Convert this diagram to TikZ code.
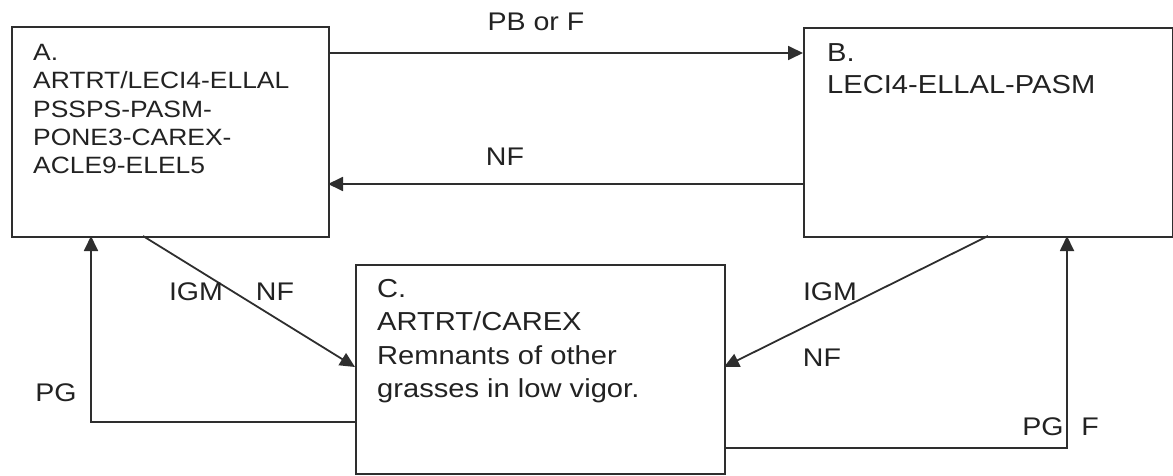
\documentclass[tikz,border=0pt]{standalone}
\usepackage{fontspec}
\setmainfont{Liberation Sans}[FakeStretch=1.12]
\usetikzlibrary{arrows.meta}
\definecolor{ink}{HTML}{2E2E2E}
\definecolor{txt}{HTML}{222222}
\tikzset{
  box/.style={draw=ink, line width=1.8pt, inner sep=0pt},
  lbl/.style={text=txt, font=\fontsize{25.5}{28}\selectfont, inner sep=0pt},
  boxtxt/.style={text=txt, align=left, anchor=north west, inner sep=0pt},
  conn/.style={draw=ink, line width=1.8pt, -{Triangle[length=15pt,width=14pt]}},
}
\begin{document}
\begin{tikzpicture}[x=1pt,y=-1pt]
\useasboundingbox (0,0) rectangle (1173,476);
% boxes
\node[box, minimum width=317pt, minimum height=210pt, anchor=north west] (A) at (11,26) {};
\node[box, minimum width=369pt, minimum height=209pt, anchor=north west] (B) at (803,27) {};
\node[box, minimum width=369pt, minimum height=209pt, anchor=north west] (C) at (355,264) {};
% texts
\node[boxtxt, font=\fontsize{23.6}{28.3}\selectfont] (At) at (33,44) {A.\\ARTRT/LECI4-ELLAL\\PSSPS-PASM-\\PONE3-CAREX-\\ACLE9-ELEL5};
\node[boxtxt, font=\fontsize{26}{32}\selectfont] (Bt) at (827,43) {B.\\LECI4-ELLAL-PASM};
\node[boxtxt, font=\fontsize{26}{33.5}\selectfont] (Ct) at (377,279) {C.\\ARTRT/CAREX\\Remnants of other\\grasses in low vigor.};
% connectors
\coordinate (a1) at (328,53);
\coordinate (b1) at (803,53);
\draw[conn] (a1) -- (b1);
\coordinate (b2) at (803,184);
\coordinate (a2) at (328,184);
\draw[conn] (b2) -- (a2);
\coordinate (a3) at (143,236);
\coordinate (c3) at (355,367);
\draw[conn] (a3) -- (c3);
\coordinate (b4) at (988,236);
\coordinate (c4) at (724,367);
\draw[conn] (b4) -- (c4);
\coordinate (c5) at (355,422);
\coordinate (a5) at (91,236);
\draw[conn] (c5) -| (a5);
\coordinate (c6) at (724,448);
\coordinate (b6) at (1067,236);
\draw[conn] (c6) -| (b6);
% labels
\node[lbl] (l1) at (536,22) {PB or F};
\node[lbl] (l2) at (505,157) {NF};
\node[lbl] (l3) at (196,292) {IGM};
\node[lbl] (l4) at (275,292) {NF};
\node[lbl] (l5) at (830,292) {IGM};
\node[lbl] (l6) at (822,358) {NF};
\node[lbl] (l7) at (56,393) {PG};
\node[lbl] (l8) at (1043,427) {PG};
\node[lbl] (l9) at (1090,427) {F};
\end{tikzpicture}
\end{document}
